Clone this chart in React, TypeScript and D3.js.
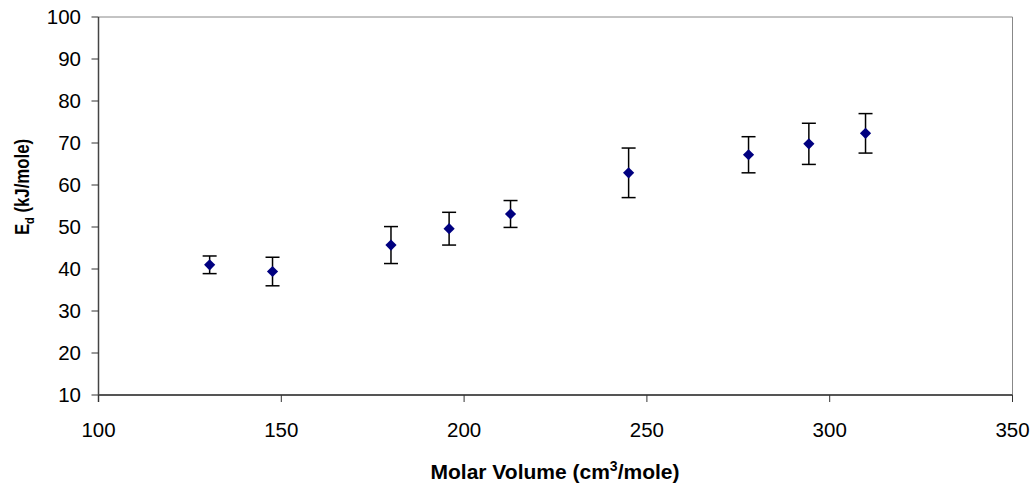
import React from "react";
import * as d3 from "d3";

const molarVolume = [130.4, 147.6, 180.0, 195.9, 212.7, 245.0, 277.8, 294.3, 309.8];
const ed = [41.0, 39.4, 45.7, 49.6, 53.1, 62.9, 67.2, 69.8, 72.3];
const edError = [2.1, 3.4, 4.4, 3.9, 3.2, 5.9, 4.3, 4.9, 4.7];
const xTicks = [100, 150, 200, 250, 300, 350];
const yTicks = [10, 20, 30, 40, 50, 60, 70, 80, 90, 100];

const W = 1032;
const H = 486;
const M = { left: 98.5, right: 1012.5, top: 17, bottom: 395 };
const FONT = "'Liberation Sans', Arial, sans-serif";

export default function App() {
  const x = d3.scaleLinear().domain([100, 350]).range([M.left, M.right]);
  const y = d3.scaleLinear().domain([10, 100]).range([M.bottom, M.top]);
  const diamond = d3.symbol().type(d3.symbolDiamond2).size(80)();

  return (
    <svg
      width={W}
      height={H}
      style={{ position: "absolute", left: 0, top: 0 }}
      fontFamily={FONT}
    >
      <rect width={W} height={H} fill="#fff" />
      {/* top and right frame */}
      <line x1={M.left} x2={M.right} y1={M.top} y2={M.top} stroke="#888" strokeWidth={1} />
      <line x1={M.right} x2={M.right} y1={M.top} y2={M.bottom} stroke="#888" strokeWidth={1} />
      {/* axes */}
      <line x1={M.left} x2={M.left} y1={M.top} y2={M.bottom + 7} stroke="#444" strokeWidth={1.5} />
      <line x1={M.left} x2={M.right} y1={M.bottom} y2={M.bottom} stroke="#555" strokeWidth={2} />
      {yTicks.map((t) => (
        <g key={"y" + t}>
          <line x1={M.left - 7} x2={M.left} y1={y(t)} y2={y(t)} stroke="#333" strokeWidth={1} />
          <text x={81} y={y(t)} dy="0.35em" textAnchor="end" fontSize={20.5} fill="#000">
            {t}
          </text>
        </g>
      ))}
      {xTicks.map((t) => (
        <g key={"x" + t}>
          <line x1={x(t)} x2={x(t)} y1={M.bottom} y2={M.bottom + 7} stroke="#333" strokeWidth={1} />
          <text x={x(t)} y={430} dy="0.35em" textAnchor="middle" fontSize={20.5} fill="#000">
            {t}
          </text>
        </g>
      ))}
      {/* error bars */}
      {molarVolume.map((v, i) => {
        const cx = x(v);
        const top = y(ed[i] + edError[i]);
        const bot = y(ed[i] - edError[i]);
        return (
          <g key={"e" + i} stroke="#000" strokeWidth={1.5}>
            <line x1={cx} x2={cx} y1={top} y2={bot} />
            <line x1={cx - 7} x2={cx + 7} y1={top} y2={top} />
            <line x1={cx - 7} x2={cx + 7} y1={bot} y2={bot} />
          </g>
        );
      })}
      {/* markers */}
      {molarVolume.map((v, i) => (
        <path
          key={"m" + i}
          d={diamond || ""}
          transform={`translate(${x(v)},${y(ed[i])})`}
          fill="#000080"
        />
      ))}
      {/* axis titles */}
      <text x={555} y={472} dy="0.35em" textAnchor="middle" fontSize={21} fontWeight="bold" fill="#000">
        Molar Volume (cm<tspan dy="-8" fontSize={14}>3</tspan>
        <tspan dy="8">/mole)</tspan>
      </text>
      <g transform="translate(22,187) rotate(-90) scale(0.84,1)">
        <text
          dy="0.35em"
          textAnchor="middle"
          fontSize={20}
          fontWeight="bold"
          fill="#000"
        >
          E<tspan dy="5" fontSize={13}>d</tspan>
          <tspan dy="-5"> (kJ/mole)</tspan>
        </text>
      </g>
    </svg>
  );
}
